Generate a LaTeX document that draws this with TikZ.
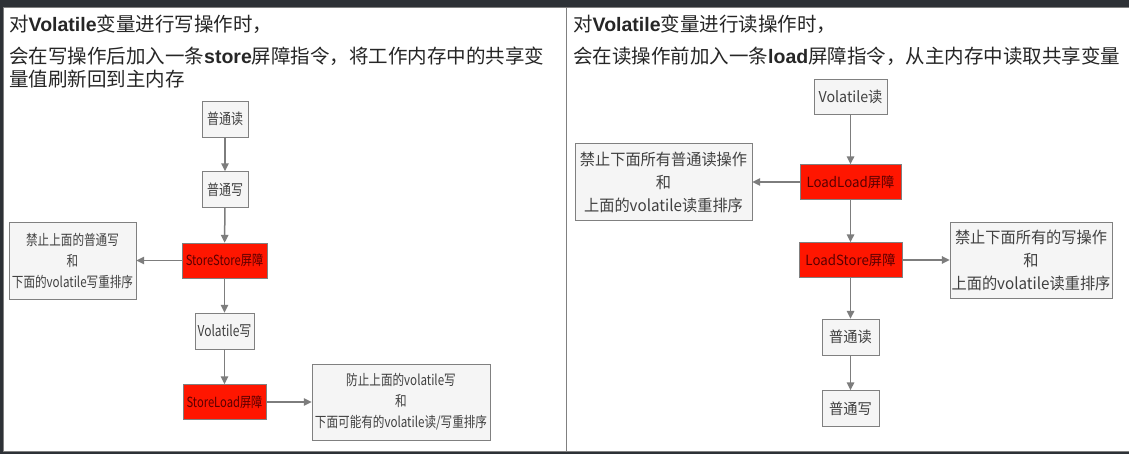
\documentclass[tikz,border=0pt]{standalone}
\usepackage{fontspec}
\setmainfont{Noto Sans CJK SC}
\newfontfamily\lat{Liberation Sans}
\newfontfamily\thin[FakeStretch=0.8]{Noto Sans CJK SC}
\newfontfamily\wide[FakeStretch=0.95]{Noto Sans CJK SC}
\usetikzlibrary{arrows.meta}
\definecolor{bg}{RGB}{45, 49, 54}
\definecolor{frm}{RGB}{128, 128, 128}
\definecolor{boxc}{RGB}{245, 245, 245}
\definecolor{bar}{RGB}{255, 22, 0}
\definecolor{bartxt}{RGB}{90, 0, 0}
\definecolor{txt}{RGB}{64, 64, 64}
\definecolor{arr}{RGB}{125, 125, 125}
\newcommand{\lb}[1]{{\lat\bfseries #1}}
\tikzset{
  box/.style={draw=frm, fill=boxc, text=txt, inner sep=0},
  op/.style={box, minimum height=36, font=\fontsize{15}{20}\selectfont\thin},
  fence/.style={draw=frm, fill=bar, text=bartxt, inner sep=0, minimum height=35, font=\fontsize{14}{18}\selectfont\thin},
  note/.style={box, align=center, minimum height=77, font=\fontsize{14.5}{21}\selectfont\thin},
  rs/.style={font=\fontsize{#1}{23}\selectfont\wide},
  flow/.style={draw=arr, line width=1.5, -{Triangle[length=8, width=7.5]}},
  head/.style={anchor=base west, inner sep=0, text=black!85, font=\fontsize{19.5}{23}\selectfont}
}
\begin{document}
\begin{tikzpicture}[x=1pt, y=-1pt]
  \useasboundingbox (0, 0) rectangle (1129, 454);
  \fill[bg] (0, 0) rectangle (1129, 454);
  \draw[frm, fill=white] (3.5, 7) rectangle (1140, 451);
  \draw[frm] (566, 7) -- (566, 451);
  % left cell: write
  \node[head] (h1) at (9, 32) {对\lb{Volatile}变量进行写操作时，};
  \node[head] (h2) at (9, 64) {会在写操作后加入一条\lb{store}屏障指令，将工作内存中的共享变};
  \node[head] (h3) at (9, 87) {量值刷新回到主内存};
  \node[op, minimum width=46] (rd) at (225, 119) {普通读};
  \node[op, minimum width=46] (wr) at (225, 189.5) {普通写};
  \node[fence, minimum width=85] (ss) at (224.5, 260.5) {StoreStore屏障};
  \node[note, minimum width=127] (ssn) at (72.5, 260.5) {禁止上面的普通写\\和\\下面的volatile写重排序};
  \node[op, minimum width=59] (vw) at (224.5, 331) {Volatile写};
  \node[fence, minimum width=83] (sl) at (224.5, 402) {StoreLoad屏障};
  \node[note, minimum width=178, minimum height=76] (sln) at (401, 402) {防止上面的volatile写\\和\\下面可能有的volatile读/写重排序};
  \draw[flow] (rd) -- (wr);
  \draw[flow] (wr) -- (ss);
  \draw[flow] (ss) -- (ssn);
  \draw[flow] (ss) -- (vw);
  \draw[flow] (vw) -- (sl);
  \draw[flow] (sl) -- (sln);
  % right cell: read
  \node[head] (g1) at (573, 32) {对\lb{Volatile}变量进行读操作时，};
  \node[head] (g2) at (573, 64) {会在读操作前加入一条\lb{load}屏障指令，从主内存中读取共享变量};
  \node[op, rs=15, minimum width=73, minimum height=35] (vr) at (850.5, 96.5) {Volatile读};
  \node[fence, rs=14, minimum width=101] (ll) at (850.5, 182) {LoadLoad屏障};
  \node[note, rs=16, minimum width=177] (lln) at (663.5, 182) {禁止下面所有普通读操作\\和\\上面的volatile读重排序};
  \node[fence, rs=14, minimum width=103] (ls) at (850.5, 260) {LoadStore屏障};
  \node[note, rs=16, minimum width=162, minimum height=76] (lsn) at (1031, 260) {禁止下面所有的写操作\\和\\上面的volatile读重排序};
  \node[op, rs=15, minimum width=57] (rd2) at (850.5, 337) {普通读};
  \node[op, rs=15, minimum width=57] (wr2) at (850.5, 408.5) {普通写};
  \draw[flow] (vr) -- (ll);
  \draw[flow] (ll) -- (lln);
  \draw[flow] (ll) -- (ls);
  \draw[flow] (ls) -- (lsn);
  \draw[flow] (ls) -- (rd2);
  \draw[flow] (rd2) -- (wr2);
\end{tikzpicture}
\end{document}
